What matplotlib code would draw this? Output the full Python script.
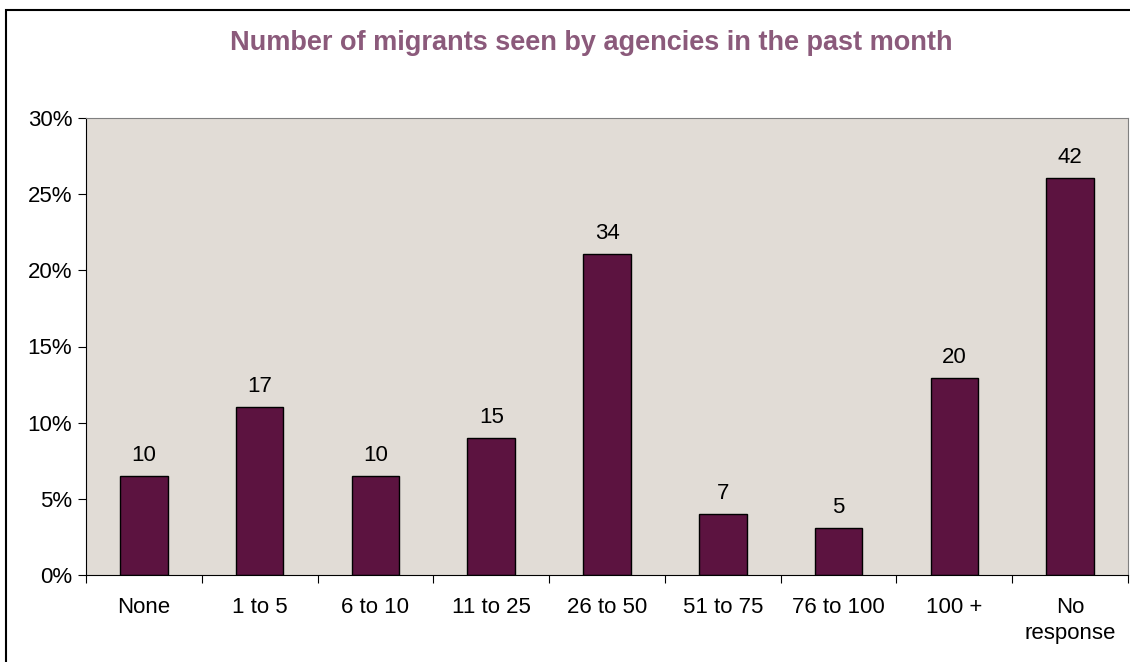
import matplotlib.pyplot as plt
from matplotlib.patches import Rectangle
from matplotlib.ticker import FuncFormatter

plt.rcParams['font.family'] = ['Liberation Sans', 'DejaVu Sans']

# data
categories = ['None', '1 to 5', '6 to 10', '11 to 25', '26 to 50',
              '51 to 75', '76 to 100', '100 +', 'No\nresponse']
percent = [6.5, 11.05, 6.5, 9.0, 21.05, 4.0, 3.1, 12.95, 26.05]
counts = [10, 17, 10, 15, 34, 7, 5, 20, 42]

W, H = 1130, 662
fig = plt.figure(figsize=(W / 100, H / 100), dpi=100)

# outer chart border (cropped on right and bottom in the original)
fig.patches.append(Rectangle((6 / W, -0.1), 1.2, 1 - 10 / H + 0.1,
                             transform=fig.transFigure, fill=False,
                             edgecolor='black', linewidth=1.5))

ax = fig.add_axes([86 / W, 1 - 575 / H, (1128 - 86) / W, (575 - 118) / H])
ax.set_facecolor('#e1dcd6')

x = list(range(len(categories)))
ax.bar(x, percent, width=0.41, color='#5c1340', edgecolor='black', linewidth=1)

for xi, p, c in zip(x, percent, counts):
    ax.text(xi, p + 0.65, str(c), ha='center', va='bottom', fontsize=16)

ax.set_xlim(-0.5, len(categories) - 0.5)
ax.set_ylim(0, 30)
ax.set_yticks(range(0, 31, 5))
ax.yaxis.set_major_formatter(FuncFormatter(lambda v, pos: f'{v:.0f}%'))

# category labels centred, ticks between categories
ax.set_xticks([i - 0.5 for i in range(len(categories) + 1)])
ax.set_xticklabels([])
ax.set_xticks(x, minor=True)
ax.set_xticklabels(categories, minor=True, linespacing=1.3)
ax.tick_params(axis='x', which='minor', length=0, pad=16, labelsize=16)
ax.tick_params(axis='x', which='major', length=6, direction='out', color='black')
ax.tick_params(axis='y', length=6, direction='out', labelsize=16, pad=4)

for side in ['top', 'right']:
    ax.spines[side].set_color('#808080')
ax.spines['left'].set_color('black')
ax.spines['bottom'].set_color('black')

fig.text(591 / W, 1 - 43 / H,
         'Number of migrants seen by agencies in the past month',
         ha='center', va='center', fontsize=19.5, fontweight='bold', color='#8b5a7b')

fig.savefig('out.png', dpi=100)
